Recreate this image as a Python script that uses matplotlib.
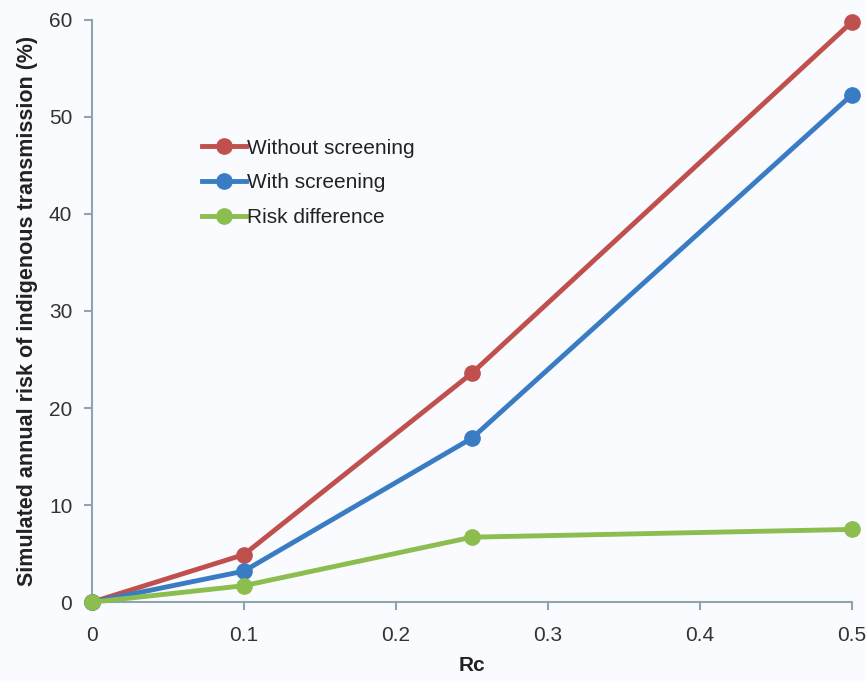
import matplotlib
matplotlib.use("Agg")
import matplotlib.pyplot as plt

rc = [0, 0.1, 0.25, 0.5]
without_screening = [0, 4.9, 23.6, 59.8]
with_screening = [0, 3.2, 16.9, 52.3]
risk_difference = [0, 1.7, 6.7, 7.5]

x_ticks = [0, 0.1, 0.2, 0.3, 0.4, 0.5]
x_labels = ["0", "0.1", "0.2", "0.3", "0.4", "0.5"]
y_ticks = [0, 10, 20, 30, 40, 50, 60]

plt.rcParams["font.family"] = ["Liberation Sans", "DejaVu Sans"]

bg = "#fafbfe"
fig = plt.figure(figsize=(8.66, 6.82), dpi=100, facecolor=bg)
ax = fig.add_axes([0.106, 0.117, 0.878, 0.854], facecolor=bg)

ax.plot(rc, without_screening, color="#c0504d", lw=3.5, marker="o", ms=11,
        label="Without screening", clip_on=False, zorder=3)
ax.plot(rc, with_screening, color="#3a7cc4", lw=3.5, marker="o", ms=11,
        label="With screening", clip_on=False, zorder=4)
ax.plot(rc, risk_difference, color="#8cbd4f", lw=3.5, marker="o", ms=11,
        label="Risk difference", clip_on=False, zorder=5)

ax.set_xlim(0, 0.5)
ax.set_ylim(0, 60)
ax.set_xticks(x_ticks)
ax.set_xticklabels(x_labels)
ax.set_yticks(y_ticks)

for side in ["top", "right"]:
    ax.spines[side].set_visible(False)
for side in ["left", "bottom"]:
    ax.spines[side].set_color("#8fa3b0")
    ax.spines[side].set_linewidth(1.5)

ax.tick_params(axis="both", colors="#8fa3b0", width=1.5, length=6,
               labelsize=15, labelcolor="#333333")
ax.tick_params(axis="x", pad=11)
ax.tick_params(axis="y", pad=8)

ax.set_xlabel("Rc", fontsize=15, fontweight="bold", color="#222222", labelpad=8)
ax.set_ylabel("Simulated annual risk of indigenous transmission (%)",
              fontsize=15.5, fontweight="bold", color="#222222", labelpad=8)

leg = ax.legend(loc="upper left", bbox_to_anchor=(0.12, 0.828), frameon=False,
                fontsize=15, handlelength=2.1, handletextpad=0.05,
                labelspacing=0.75)
for t in leg.get_texts():
    t.set_color("#222222")

fig.savefig("out.png", dpi=100, facecolor=bg)
